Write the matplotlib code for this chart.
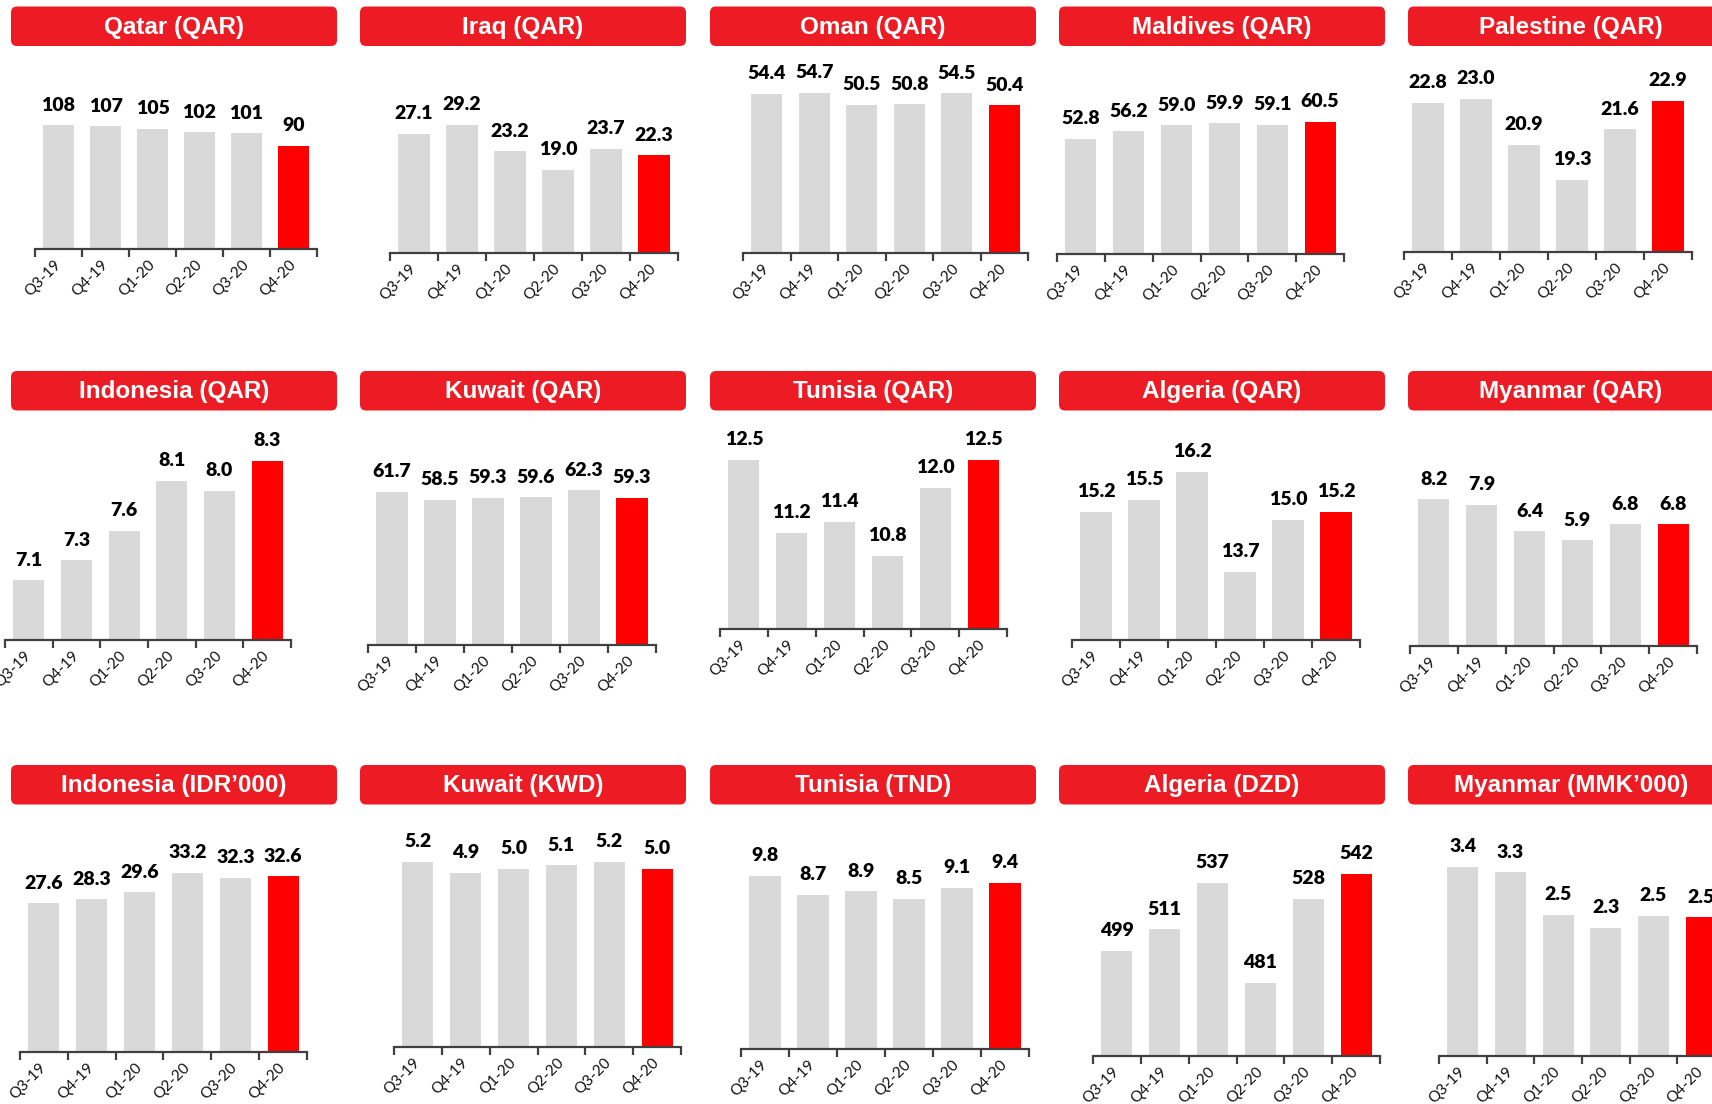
import matplotlib
matplotlib.use("Agg")
import matplotlib.pyplot as plt
import matplotlib.transforms as mtransforms
from matplotlib.patches import FancyBboxPatch

plt.rcParams['font.family'] = ['Lato', 'DejaVu Sans']

W, H = 1712, 1104

# data
quarters = ["Q3-19", "Q4-19", "Q1-20", "Q2-20", "Q3-20", "Q4-20"]

titles = ["Qatar (QAR)", "Iraq (QAR)", "Oman (QAR)", "Maldives (QAR)", "Palestine (QAR)",
          "Indonesia (QAR)", "Kuwait (QAR)", "Tunisia (QAR)", "Algeria (QAR)", "Myanmar (QAR)",
          "Indonesia (IDR\u2019000)", "Kuwait (KWD)", "Tunisia (TND)", "Algeria (DZD)",
          "Myanmar (MMK\u2019000)"]

qatar_qar = [108, 107, 105, 102, 101, 90]
iraq_qar = [27.1, 29.2, 23.2, 19.0, 23.7, 22.3]
oman_qar = [54.4, 54.7, 50.5, 50.8, 54.5, 50.4]
maldives_qar = [52.8, 56.2, 59.0, 59.9, 59.1, 60.5]
palestine_qar = [22.8, 23.0, 20.9, 19.3, 21.6, 22.9]
indonesia_qar = [7.1, 7.3, 7.6, 8.1, 8.0, 8.3]
kuwait_qar = [61.7, 58.5, 59.3, 59.6, 62.3, 59.3]
tunisia_qar = [12.5, 11.2, 11.4, 10.8, 12.0, 12.5]
algeria_qar = [15.2, 15.5, 16.2, 13.7, 15.0, 15.2]
myanmar_qar = [8.2, 7.9, 6.4, 5.9, 6.8, 6.8]
indonesia_idr = [27.6, 28.3, 29.6, 33.2, 32.3, 32.6]
kuwait_kwd = [5.2, 4.9, 5.0, 5.1, 5.2, 5.0]
tunisia_tnd = [9.8, 8.7, 8.9, 8.5, 9.1, 9.4]
algeria_dzd = [499, 511, 537, 481, 528, 542]
myanmar_mmk = [3.4, 3.3, 2.54, 2.3, 2.52, 2.49]

series = [qatar_qar, iraq_qar, oman_qar, maldives_qar, palestine_qar,
          indonesia_qar, kuwait_qar, tunisia_qar, algeria_qar, myanmar_qar,
          indonesia_idr, kuwait_kwd, tunisia_tnd, algeria_dzd, myanmar_mmk]
decimals = [0, 1, 1, 1, 1, 1, 1, 1, 1, 1, 1, 1, 1, 0, 1]

# layout in pixels (each panel drawn in the original at its own place/scale)
ax_x0 = [35, 390, 743, 1057, 1404, 5, 368, 720, 1072, 1410, 20, 394, 741, 1093, 1439]
ax_x1 = [317, 678, 1028, 1344, 1692, 291, 656, 1007, 1360, 1697, 307, 681, 1029, 1380, 1725]
ax_base = [249, 253, 253, 254, 252, 640, 645, 629, 640, 646, 1052, 1047, 1049, 1056, 1056]
y_min = [0, 0, 0, 0, 16, 6.5, 0, 9.5, 12, 0, 0, 0, 0, 440, 0]
px_per_unit = [1.146, 4.39, 2.93, 2.185, 21.9, 99.4, 2.48, 56.5, 40, 17.9,
               5.39, 35.6, 17.7, 1.787, 55.7]
box_x0 = [11, 360, 710, 1059, 1408]
box_y0 = [6.5, 371, 765]
box_w, box_h = 326, 39.5
ax_h = 215

GREY = '#D9D9D9'
RED = '#FF0000'
BOX_RED = '#ED1C24'

fig = plt.figure(figsize=(W / 100, H / 100), dpi=100)
shift = mtransforms.ScaledTranslation(4 / 100, 0, fig.dpi_scale_trans)

# overlay in pixel coords for the title boxes
bg = fig.add_axes([0, 0, 1, 1])
bg.set_xlim(0, W)
bg.set_ylim(H, 0)
bg.axis('off')

for i, vals in enumerate(series):
    row, col = divmod(i, 5)
    bx, by = box_x0[col], box_y0[row]
    bg.add_patch(FancyBboxPatch((bx, by), box_w, box_h,
                                boxstyle="round,pad=0,rounding_size=6",
                                fc=BOX_RED, ec='none'))
    bg.text(bx + box_w / 2, by + box_h / 2 + 1, titles[i], color='white',
            fontsize=17.5, fontweight='bold', family='Liberation Sans',
            ha='center', va='center')

    x0, x1, base = ax_x0[i], ax_x1[i], ax_base[i]
    ax = fig.add_axes([x0 / W, 1 - base / H, (x1 - x0) / W, ax_h / H])
    colors = [GREY] * (len(vals) - 1) + [RED]
    xs = range(len(vals))
    ax.bar(xs, vals, width=0.65, color=colors)
    ax.set_xlim(-0.5, len(vals) - 0.5)
    ax.set_ylim(y_min[i], y_min[i] + ax_h / px_per_unit[i])

    for x, v in zip(xs, vals):
        ax.annotate(f"{v:.{decimals[i]}f}", (x, v), xytext=(0, 10.5),
                    textcoords='offset points', ha='center', va='baseline',
                    fontsize=14, fontweight='heavy', color='black',
                    annotation_clip=False)

    for s in ['left', 'top', 'right']:
        ax.spines[s].set_visible(False)
    ax.spines['bottom'].set_color('#404040')
    ax.spines['bottom'].set_linewidth(1.6)
    ax.set_yticks([])
    ax.set_xticks(list(xs))
    ax.set_xticklabels(quarters, rotation=45, ha='right', va='center',
                       rotation_mode='anchor', fontsize=11, color='#111111')
    for lbl in ax.get_xticklabels():
        lbl.set_transform(lbl.get_transform() + shift)
    ax.set_xticks([k - 0.5 for k in range(len(vals) + 1)], minor=True)
    ax.tick_params(axis='x', which='major', length=0, pad=10)
    ax.tick_params(axis='x', which='minor', length=6, width=1.6, color='#404040')
    ax.patch.set_alpha(0)

fig.savefig("out.png", dpi=100)
